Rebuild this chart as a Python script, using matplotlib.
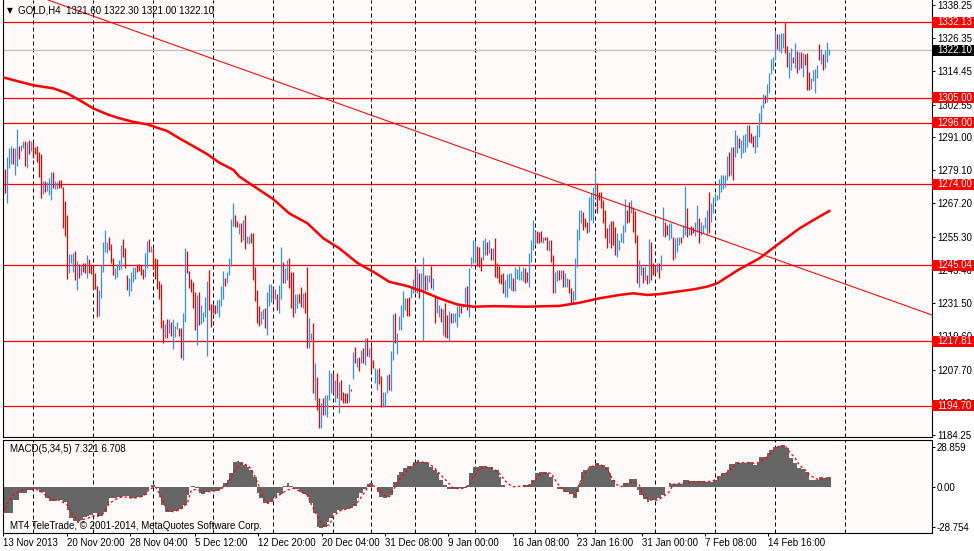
import numpy as np
import matplotlib
matplotlib.use("Agg")
import matplotlib.pyplot as plt
from matplotlib.patches import Rectangle

# ---------------- data ----------------
highs = [
    1278.8, 1279.5, 1283.8, 1287.0, 1287.7, 1287.0, 1287.0, 1293.8, 1287.7, 1288.1,
    1289.5, 1289.5, 1289.2, 1289.9, 1289.5, 1289.2, 1287.4, 1287.7, 1285.6, 1284.9,
    1275.2, 1275.2, 1274.9, 1276.3, 1278.4, 1278.4, 1275.2, 1274.9, 1275.6, 1275.6,
    1273.1, 1268.0, 1263.0, 1249.1, 1249.1, 1249.4, 1250.1, 1246.6, 1245.5, 1245.1,
    1245.9, 1245.9, 1248.7, 1247.3, 1245.1, 1244.8, 1242.3, 1237.6, 1236.2, 1245.1,
    1253.4, 1257.7, 1253.4, 1255.2, 1252.6, 1247.6, 1244.0, 1245.5, 1246.9, 1252.3,
    1254.4, 1251.2, 1241.5, 1240.5, 1242.6, 1244.4, 1244.4, 1245.5, 1245.5, 1245.1,
    1243.7, 1249.4, 1253.7, 1254.4, 1251.9, 1251.2, 1247.6, 1247.3, 1239.4, 1238.3,
    1225.4, 1224.0, 1225.8, 1225.8, 1224.7, 1225.8, 1223.3, 1224.7, 1222.6, 1222.6,
    1227.9, 1251.2, 1250.1, 1243.0, 1240.1, 1239.0, 1235.5, 1234.4, 1235.5, 1230.8,
    1228.3, 1233.7, 1239.4, 1243.3, 1231.2, 1231.2, 1230.8, 1232.6, 1232.9, 1237.6,
    1243.0, 1240.5, 1242.6, 1247.6, 1261.6, 1267.3, 1263.0, 1260.9, 1260.2,
    1260.1, 1261.2, 1263.0, 1255.6, 1255.6, 1256.7, 1256.5, 1244.5, 1236.2, 1230.4,
    1228.8, 1229.3, 1229.8, 1235.3, 1238.2, 1238.2, 1237.4, 1236.5, 1234.6, 1238.0,
    1251.7, 1246.3, 1243.9, 1246.9, 1247.5, 1242.7, 1242.5, 1234.6, 1234.7, 1234.6,
    1237.1, 1235.0, 1235.3, 1244.5, 1226.3, 1220.9, 1224.2, 1209.9, 1205.1, 1197.6,
    1195.6, 1197.4, 1198.6, 1198.6, 1207.5, 1206.3, 1206.3, 1203.9, 1206.3, 1203.3,
    1203.9, 1199.5, 1199.2, 1199.2, 1202.4, 1200.7, 1214.1, 1215.9, 1211.9, 1212.3,
    1214.7, 1215.3, 1218.9, 1219.1, 1215.5, 1216.2, 1211.1, 1208.3, 1208.0, 1208.3,
    1205.4, 1199.8, 1199.8, 1205.7, 1206.1, 1214.3, 1227.6, 1227.8, 1220.7, 1226.9,
    1230.8, 1235.8, 1233.2, 1233.4, 1233.8, 1237.4, 1240.1, 1245.1, 1243.6, 1242.4,
    1242.4, 1247.9, 1241.5, 1241.5, 1241.5, 1244.8, 1240.4, 1233.8, 1233.2, 1230.8,
    1229.8, 1229.3, 1231.6, 1227.2, 1228.6, 1227.8, 1228.0, 1227.8, 1230.4, 1231.4,
    1230.4, 1231.2, 1237.4, 1237.6, 1243.9, 1247.9, 1254.1, 1253.7, 1252.0, 1251.7,
    1248.1, 1254.1, 1254.7, 1253.5, 1254.1, 1251.1, 1251.1, 1254.7, 1245.7, 1244.8,
    1241.8, 1242.1, 1239.8, 1241.8, 1242.1, 1242.1, 1240.4, 1244.5, 1243.6, 1244.8,
    1243.0, 1244.5, 1244.1, 1242.7, 1249.3, 1254.1, 1261.2, 1257.4, 1257.4, 1257.1,
    1257.4, 1255.3, 1255.3, 1255.3, 1254.1, 1254.1, 1248.7, 1242.7, 1243.3, 1243.3,
    1243.3, 1243.3, 1242.1, 1240.4, 1240.0, 1237.0, 1235.8, 1247.7, 1257.9, 1265.0,
    1265.0, 1264.2, 1261.9, 1260.6, 1269.6, 1270.8, 1273.2, 1278.5, 1274.4, 1271.4,
    1271.4, 1268.4, 1264.8, 1258.3, 1259.8, 1260.9, 1260.9, 1258.8, 1256.5, 1254.1,
    1256.5, 1259.5, 1268.7, 1264.8, 1267.6, 1268.4, 1266.0, 1264.6, 1255.9, 1246.9,
    1245.1, 1244.5, 1244.8, 1241.5, 1254.4, 1253.5, 1245.7, 1245.1, 1246.0, 1245.7,
    1248.7, 1266.0, 1260.6, 1259.5, 1260.1, 1260.1, 1255.3, 1254.7, 1255.3, 1255.3,
    1255.3, 1259.5, 1273.4, 1265.4, 1258.8, 1259.1, 1258.8, 1260.6, 1266.6, 1261.9,
    1260.6, 1259.5, 1262.2, 1264.8, 1271.4, 1267.2, 1269.4, 1271.0, 1270.2, 1275.8,
    1277.4, 1277.4, 1277.4, 1284.2, 1285.7, 1287.5, 1287.5, 1293.5, 1291.7, 1290.5,
    1289.9, 1291.7, 1292.0, 1295.3, 1295.3, 1292.5, 1291.3, 1291.7, 1295.3, 1299.4,
    1302.4, 1306.4, 1306.0, 1310.0, 1314.0, 1318.8, 1319.7, 1329.0, 1327.9, 1327.9,
    1328.3, 1328.1, 1332.1, 1323.6, 1321.5, 1322.7, 1319.7, 1324.5, 1321.9, 1321.5,
    1321.5, 1321.0, 1320.7, 1321.2, 1314.4, 1312.0, 1315.0, 1315.2, 1316.8, 1324.3,
    1322.4, 1320.6, 1322.1, 1324.9, 1322.4,
]
lows = [
    1270.2, 1270.9, 1267.3, 1279.9, 1281.3, 1281.3, 1277.4, 1280.6, 1283.1, 1285.9,
    1287.0, 1280.6, 1279.9, 1284.9, 1285.9, 1283.5, 1284.9, 1282.0, 1276.6, 1269.1,
    1270.6, 1271.3, 1271.6, 1270.2, 1268.4, 1272.7, 1272.4, 1272.4, 1272.7, 1272.7,
    1258.4, 1255.5, 1240.1, 1242.3, 1245.9, 1242.6, 1239.8, 1236.2, 1240.5, 1241.5,
    1242.6, 1242.3, 1240.5, 1242.3, 1241.9, 1236.5, 1236.5, 1226.5, 1226.9, 1233.3,
    1242.6, 1249.8, 1249.4, 1250.5, 1245.9, 1241.5, 1240.1, 1240.8, 1243.3, 1243.7,
    1248.0, 1244.0, 1236.2, 1234.0, 1235.8, 1239.1, 1240.1, 1242.6, 1243.0, 1241.5,
    1240.1, 1240.8, 1244.0, 1249.8, 1249.8, 1243.7, 1240.1, 1236.5, 1232.9, 1222.6,
    1217.2, 1219.0, 1219.0, 1220.8, 1219.7, 1215.0, 1219.3, 1222.2, 1219.7, 1211.8,
    1211.1, 1224.7, 1242.3, 1236.9, 1235.5, 1229.7, 1221.9, 1216.5, 1223.6, 1224.0,
    1224.7, 1226.5, 1212.5, 1229.0, 1222.9, 1227.9, 1227.6, 1227.9, 1226.5, 1230.4,
    1232.9, 1237.6, 1238.7, 1241.5, 1244.8, 1259.1, 1258.7, 1258.7, 1256.2,
    1253.5, 1254.1, 1250.7, 1252.9, 1252.5, 1252.9, 1239.8, 1232.3, 1224.5, 1223.3,
    1224.0, 1225.7, 1222.5, 1220.0, 1230.4, 1232.0, 1232.6, 1232.8, 1229.0, 1228.0,
    1232.9, 1238.8, 1238.6, 1239.8, 1236.8, 1229.6, 1226.6, 1227.8, 1229.6, 1231.6,
    1230.0, 1229.8, 1227.8, 1215.3, 1215.3, 1218.3, 1199.2, 1196.8, 1193.2, 1186.7,
    1186.7, 1191.4, 1191.4, 1190.8, 1196.8, 1199.2, 1199.2, 1196.2, 1197.4, 1192.0,
    1196.8, 1195.8, 1195.8, 1195.8, 1196.2, 1200.1, 1204.3, 1210.1, 1208.7, 1207.2,
    1209.9, 1209.9, 1209.3, 1212.6, 1212.3, 1207.3, 1208.1, 1202.8, 1200.3, 1202.5,
    1194.4, 1194.4, 1194.4, 1199.2, 1200.3, 1200.1, 1211.1, 1217.3, 1213.3, 1221.9,
    1221.9, 1226.6, 1229.0, 1226.9, 1226.9, 1233.2, 1235.0, 1235.6, 1235.0, 1233.2,
    1236.2, 1217.9, 1236.2, 1236.2, 1239.1, 1236.8, 1236.2, 1224.2, 1227.8, 1226.6,
    1224.8, 1220.0, 1219.4, 1218.9, 1217.9, 1224.2, 1224.2, 1224.8, 1223.0, 1226.6,
    1228.0, 1230.0, 1231.4, 1229.0, 1226.6, 1244.5, 1245.7, 1246.0, 1244.8, 1244.5,
    1243.0, 1246.9, 1248.7, 1248.7, 1249.3, 1246.9, 1246.9, 1240.9, 1240.4, 1238.6,
    1238.3, 1235.2, 1233.8, 1233.8, 1236.8, 1236.2, 1235.9, 1235.9, 1240.0, 1239.8,
    1239.8, 1239.5, 1238.8, 1239.1, 1237.4, 1246.3, 1250.5, 1252.3, 1252.9, 1252.9,
    1253.5, 1253.1, 1254.1, 1250.5, 1250.3, 1246.3, 1235.2, 1235.2, 1239.5, 1239.8,
    1240.0, 1237.1, 1237.4, 1237.1, 1235.2, 1231.4, 1231.4, 1232.6, 1244.3, 1254.1,
    1260.0, 1257.7, 1258.9, 1256.5, 1257.1, 1261.2, 1260.1, 1269.0, 1263.6, 1268.4,
    1265.4, 1260.1, 1254.7, 1251.1, 1252.9, 1251.1, 1252.3, 1248.7, 1248.1, 1250.5,
    1253.5, 1252.9, 1257.1, 1260.1, 1260.6, 1263.6, 1257.1, 1253.1, 1238.6, 1237.4,
    1241.5, 1238.6, 1239.8, 1238.3, 1238.6, 1239.8, 1241.5, 1242.1, 1242.7, 1240.4,
    1243.3, 1255.5, 1255.3, 1255.9, 1254.1, 1254.7, 1246.9, 1247.5, 1249.9, 1252.3,
    1252.9, 1254.7, 1255.9, 1255.0, 1255.9, 1255.9, 1256.7, 1255.5, 1257.1, 1252.9,
    1255.9, 1256.5, 1258.3, 1255.9, 1256.5, 1260.6, 1263.6, 1267.2, 1268.4, 1268.7,
    1271.4, 1272.2, 1273.2, 1275.6, 1277.0, 1277.4, 1275.6, 1283.9, 1285.1, 1286.9,
    1283.3, 1285.1, 1285.7, 1287.5, 1289.3, 1288.9, 1287.5, 1285.3, 1287.5, 1291.1,
    1295.9, 1301.2, 1303.0, 1303.6, 1306.6, 1313.5, 1315.0, 1318.5, 1322.4, 1321.9,
    1320.9, 1322.7, 1320.9, 1316.2, 1312.0, 1315.0, 1317.4, 1315.6, 1313.8, 1315.0,
    1315.6, 1312.6, 1316.8, 1307.8, 1307.8, 1308.0, 1311.1, 1306.6, 1312.0, 1318.5,
    1317.1, 1315.0, 1315.6, 1318.0, 1320.3,
]
# 'u' = bullish bar (blue), 'd' = bearish bar (red)
dirs = ("uduuuduudu" "udududdddd" "uduuuduudd" "ddduuududu" "dduddddduu"
        "uuuddduuuu" "ddduuuuddd" "duududdddd" "dududuuudd" "uudddddudu"
        "uuudddduuu" "uduuuuddu"
        "duduuddddd" "uuduuududu" "uduuddduud" "dudduududd" "uduuuududu"
        "ddddududud" "udududduud" "duuuduuduu" "uuudduudud" "uuduududuu"
        "dudduduuuu" "dduduuuudd"
        "duudududdd" "dduuuuduuu" "uudduuuudd" "duddudduud" "uduudduuuu"
        "uddduuuudd" "dddduddduu" "uuuddudddu" "udududddud" "uudduuduuu"
        "duududduud" "uuuuduuuuu"
        "uuuududuud" "uuuuddduuu" "uuduuuuudu" "uudduududu" "duddduuuud"
        "uduuu")

# moving average (read at sample bars)
ma_idx = [0, 15, 25, 32, 38, 45, 52, 58, 65, 72, 82, 88, 95, 102, 108, 115, 118,
          135, 143, 152, 160, 168, 177, 185, 193, 202, 210, 218, 227, 235, 245,
          262, 278, 288, 298, 308, 315, 322, 328, 337, 345, 352, 357, 368, 378,
          388, 398, 405, 413]
ma_val = [1312.3, 1309.5, 1308.4, 1306.6, 1304.2, 1301.2, 1299.1, 1297.7, 1296.4,
          1295.5, 1293.1, 1290.5, 1287.7, 1284.8, 1281.8, 1279.2, 1276.8, 1268.7,
          1263.6, 1260.1, 1254.7, 1251.1, 1245.9, 1242.7, 1239.1, 1237.6, 1235.6,
          1233.2, 1231.0, 1230.2, 1230.4, 1230.2, 1230.5, 1231.6, 1233.2, 1234.4,
          1235.0, 1234.4, 1234.7, 1235.6, 1236.4, 1237.4, 1238.6, 1243.6, 1247.5,
          1252.9, 1258.2, 1261.2, 1264.5]

# trend line anchor points (bar index, price)
trend_idx = [22.35, 464.35]
trend_price = [1340.04, 1227.23]

levels = [1332.13, 1305.00, 1296.00, 1274.00, 1245.04, 1217.81, 1194.70]
level_labels = ["1332.13", "1305.00", "1296.00", "1274.00", "1245.04", "1217.81", "1194.70"]
last_price = 1322.10
last_label = "1322.10"

price_ticks = [1338.25, 1326.35, 1314.45, 1302.55, 1291.00, 1279.10, 1267.20,
               1255.30, 1243.40, 1231.50, 1219.60, 1207.70, 1195.80, 1184.25]

# MACD histogram (sample bar index, value)
hist_idx = [0, 5, 8, 12, 15, 18, 21, 23, 27, 30, 32, 33, 35, 37, 38, 40, 42, 43, 45,
            47, 48, 50, 52, 53, 57, 60, 63, 67, 70, 72, 73, 74, 76, 78, 79, 81, 83,
            85, 88, 90, 92, 93, 94, 96, 98, 99, 101, 103, 107, 108, 110, 112, 113,
            115, 117, 118, 120, 122, 123, 125, 127, 128, 130, 132, 133, 135, 137,
            138, 140, 142, 143, 145, 148, 150, 152, 153, 155, 157, 158, 160, 162,
            163, 165, 167, 170, 173, 175, 177, 178, 180, 182, 183, 185, 187, 188,
            190, 192, 193, 195, 197, 198, 200, 202, 205, 207, 208, 210, 212, 213,
            215, 217, 218, 220, 222, 225, 228, 232, 233, 235, 238,
            242, 245, 248, 249, 251, 253, 257, 260, 263, 264, 266, 268, 272, 273,
            275, 277, 280, 283, 285, 287, 288, 289, 290, 293, 296, 298, 301, 303,
            304, 306, 308, 310, 313, 315, 317, 318, 320, 322, 323, 327, 329, 331,
            333, 334, 337, 340, 343, 347, 350, 353, 355, 357, 359, 362, 363, 366,
            368, 372, 375, 377, 378, 382, 383, 385, 387, 389, 391, 393, 395, 397,
            399, 401, 403, 405, 407, 408, 410, 412, 413]
hist_val = [-18.7, -9.6, -4.8, -2.4, -1.9, -3.6, -8.4, -10.1, -9.6, -10.8, -16.8,
            -22.8, -24.5, -25.9, -24.0, -21.6, -21.1, -20.4, -19.2, -21.6, -21.1,
            -18.0, -13.2, -8.4, -7.2, -6.7, -8.4, -7.2, -6.0, -2.4, -0.5, 1.2, -1.2,
            -7.2, -13.2, -18.0, -18.5, -17.5, -16.3, -13.2, -6.0, -0.5, 0.5, -1.2,
            -4.3, -5.3, -3.6, -3.1, -2.9, -1.9, 2.4, 4.8, 9.6, 18.0, 18.5, 17.5,
            15.6, 14.4, 12.0, 7.2, -4.8, -8.4, -12.0, -12.5, -10.8, -7.2, -4.8,
            -5.3, 0.5, 2.9, 0.5, -1.9, -3.6, -5.3, -7.2, -12.0, -19.2, -29.3, -30.0,
            -28.8, -25.2, -22.8, -19.2, -16.8, -16.1, -15.1, -13.9, -8.4, -4.8,
            -1.9, 1.9, 2.9, -0.5, -3.6, -7.2, -8.4, -7.2, -6.0, 3.6, 8.4, 10.8,
            13.2, 14.9, 18.0, 19.2, 18.0, 18.0, 16.8, 14.4, 12.0, 9.6, 4.8, 1.2,
            -1.9, -1.9, -1.2, 1.2, 9.6, 14.4, 14.9,
            13.9, 12.0, 7.2, 1.2, -0.5, -0.5, 0.0, 1.2, 1.7, 4.8, 9.6, 10.8, 9.6,
            7.2, 0.0, -1.9, -3.6, -5.3, -8.4, -3.6, 2.4, 10.8, 12.0, 14.9, 16.8,
            15.6, 13.9, 9.6, 4.8, -0.5, -0.5, 2.4, 5.3, 5.3, -2.4, -6.0, -9.1,
            -10.8, -9.6, -8.4, -6.0, -0.5, 2.9, 1.9, 1.7, 4.8, 4.1, 4.1, 3.6, 3.6,
            4.8, 7.7, 9.6, 12.0, 16.1, 18.0, 17.3, 17.5, 15.6, 16.8, 21.1, 24.5,
            26.4, 28.8, 29.3, 30.0, 27.6, 20.4, 16.8, 13.2, 12.5, 10.8, 4.8, 4.8,
            4.8, 6.7, 6.5, 7.2, 7.3]

# MACD signal line (sample bar index, value)
sig_idx = [0, 2, 5, 8, 12, 15, 18, 22, 25, 28, 32, 35, 38, 42, 45, 48, 50, 53, 57,
           60, 65, 70, 73, 76, 78, 80, 82, 85, 88, 92, 94, 97, 100, 103, 108, 112,
           115, 118, 120, 123, 125, 128, 130, 132, 135, 138, 142, 145, 148, 152,
           155, 158, 160, 163, 165, 168, 173, 177, 180, 182, 184, 187, 190, 193,
           195, 198, 202, 205, 208, 212, 215, 218, 222, 225, 230, 233, 235, 238,
           242, 245, 248, 252, 255, 260, 263, 266, 268, 272, 274, 277, 280, 283,
           286, 288, 291, 293, 297, 299, 302, 304, 307, 309, 312, 315, 318, 320,
           323, 327, 330, 333, 335, 338, 342, 347, 352, 355, 358, 362, 365, 368,
           372, 375, 378, 382, 385, 388, 391, 393, 396, 398, 401, 403, 406, 408,
           411, 413]
sig_val = [-19.2, -12.0, -6.0, -3.1, -1.9, -1.9, -2.4, -7.2, -9.6, -9.6, -13.2,
           -21.1, -24.5, -22.8, -21.1, -20.4, -19.2, -12.0, -8.4, -7.2, -8.4, -6.7,
           -1.9, 0.0, -4.8, -10.8, -16.8, -18.0, -16.8, -12.0, -2.4, -1.9, -3.6,
           -3.6, -2.4, 2.4, 9.6, 16.1, 16.8, 14.4, 9.6, 0.0, -8.4, -11.5, -9.6,
           -6.0, -2.4, -1.2, -3.1, -6.0, -15.6, -24.0, -28.3, -27.6, -21.6, -17.5,
           -15.6, -11.5, -5.3, -1.2, 1.7, -1.2, -6.0, -7.2, -2.4, 4.8, 12.0, 15.6,
           18.0, 17.3, 14.4, 9.6, 3.6, -1.2, -1.2, 1.2, 7.2, 13.2,
           13.9, 13.2, 9.6, 2.4, 0.0, 0.5, 1.2, 4.8, 8.4, 10.1, 9.6, 2.4, -2.4,
           -4.3, -6.0, 2.4, 9.6, 13.7, 16.1, 15.6, 12.5, 7.2, 1.2, 0.0, 2.4, 3.6,
           1.2, -6.0, -9.6, -9.6, -7.2, -3.6, 1.7, 2.4, 2.9, 3.6, 3.6, 4.3, 7.2,
           10.1, 14.4, 17.3, 17.5, 16.8, 17.3, 21.6, 25.9, 29.3, 29.3, 25.2, 20.4,
           15.6, 12.0, 8.4, 6.0, 4.8, 6.0, 6.7]
macd_ticks = [28.859, 0.0, -28.754]
macd_tick_labels = ["28.859", "0.00", "-28.754"]

# time axis
grid_idx = [15, 45, 75, 105, 135, 165, 184, 206, 236, 266, 296, 326, 356, 386, 421]
xtick_idx = [0, 31.7, 63.4, 95.9, 127.5, 159.2, 190.9, 222.5, 255.0, 286.7, 319.2,
             350.9, 382.5]
xtick_labels = ["13 Nov 2013", "20 Nov 20:00", "28 Nov 04:00", "5 Dec 12:00",
                "12 Dec 20:00", "20 Dec 04:00", "31 Dec 08:00", "9 Jan 00:00",
                "16 Jan 08:00", "23 Jan 16:00", "31 Jan 00:00", "7 Feb 08:00",
                "14 Feb 16:00"]

title_text = "GOLD,H4  1321.60 1322.30 1321.00 1322.10"
macd_title = "MACD(5,34,5) 7.321 6.708"
copyright_text = "MT4 TeleTrade, \u00a9 2001-2014, MetaQuotes Software Corp."

# ---------------- drawing ----------------
plt.rcParams["font.family"] = ["Liberation Sans", "DejaVu Sans"]
FS = 7
W, H = 974, 551
fig = plt.figure(figsize=(W / 100, H / 100), dpi=100, facecolor="white")
ax1 = fig.add_axes([2.5 / W, (H - 437.3) / H, 929 / W, 437.3 / H])
ax2 = fig.add_axes([2.5 / W, (H - 533.3) / H, 929 / W, 93.3 / H])

bg = "#fffafa"
for ax in (ax1, ax2):
    ax.set_facecolor(bg)
    ax.set_xlim(-0.4, 464.1)
    for s in ax.spines.values():
        s.set_linewidth(0.8)
        s.set_color("black")
    for g in grid_idx:
        ax.axvline(g, color="black", lw=0.72, ls=(0, (4, 3)), zorder=0.5)
ax1.spines["top"].set_visible(False)

ax1.set_ylim(1183.43, 1340.04)
ax2.set_ylim(-33.56, 33.63)

# price bars
n = min(len(highs), len(lows), len(dirs))
idx = np.arange(n)
cols = ["#3a8ee8" if d == "u" else "#f00000" for d in dirs[:n]]
ax1.vlines(idx, np.array(lows[:n]), np.array(highs[:n]), colors=cols, linewidth=0.9, zorder=2)

# level lines
for p in levels:
    ax1.axhline(p, color="#ff0000", lw=0.9, zorder=1.5)
ax1.axhline(last_price, color="#c0c0c0", lw=0.9, zorder=1.4)

# moving average and trend line
ax1.plot(ma_idx, ma_val, color="#ff0000", lw=1.8, zorder=3, solid_joinstyle="miter")
ax1.plot(trend_idx, trend_price, color="#ff0000", lw=0.75, zorder=3)

# y axis (right)
ax1.yaxis.tick_right()
ax1.set_yticks(price_ticks)
ax1.set_yticklabels([f"{v:.2f}" for v in price_ticks])
ax1.tick_params(axis="y", direction="out", length=2.2, width=0.7, pad=2.0,
                labelsize=FS, colors="black")
ax1.set_xticks([])

# MACD
widths = np.diff(np.array(hist_idx, dtype=float), append=n)
ax2.bar(hist_idx, hist_val, width=widths, align="edge", color="#666666", linewidth=0, zorder=2)
ax2.plot(sig_idx, sig_val, color="#ff0000", lw=0.9, ls=(0, (2, 2)), zorder=3)
ax2.yaxis.tick_right()
ax2.set_yticks(macd_ticks)
ax2.set_yticklabels(macd_tick_labels)
ax2.tick_params(axis="y", direction="out", length=2.2, width=0.7, pad=1.5,
                labelsize=FS, colors="black")
ax2.set_xticks(xtick_idx)
ax2.set_xticklabels(xtick_labels)
ax2.tick_params(axis="x", direction="out", length=2.2, width=0.7, pad=1.5,
                labelsize=FS, colors="black")
for lab in ax2.get_xticklabels():
    lab.set_horizontalalignment("left")

ax2.text(7 / 929, 1 - 9.5 / 93.3, macd_title, transform=ax2.transAxes, fontsize=FS,
         va="center", ha="left", color="black", zorder=6)
ax2.text(7 / 929, 1 - 86 / 93.3, copyright_text, transform=ax2.transAxes, fontsize=FS,
         va="center", ha="left", color="black", zorder=6)

# title
fig.text(7 / W, 1 - 10.5 / H, "\u25bc", fontsize=5.5, family=["DejaVu Sans"],
         va="center", ha="left", color="black")
fig.text(18 / W, 1 - 10.5 / H, title_text, fontsize=FS, va="center", ha="left", color="black")

# price tags on the right
fig.canvas.draw()
xr = ax1.transAxes.transform((1, 0))[0]


def tag(val, text, fc):
    ypix = ax1.transData.transform((0, val))[1]
    rect = Rectangle((xr + 0.5, ypix - 5.5), W - xr, 11, transform=None,
                     facecolor=fc, edgecolor="none", zorder=5)
    fig.add_artist(rect)
    fig.text((xr + 5.5) / W, ypix / H, text, color="white", fontsize=FS,
             va="center", ha="left", zorder=6)


for p, lab in zip(levels, level_labels):
    tag(p, lab, "#ff0000")
tag(last_price, last_label, "#000000")

fig.savefig("out.png", dpi=100, facecolor="white")
